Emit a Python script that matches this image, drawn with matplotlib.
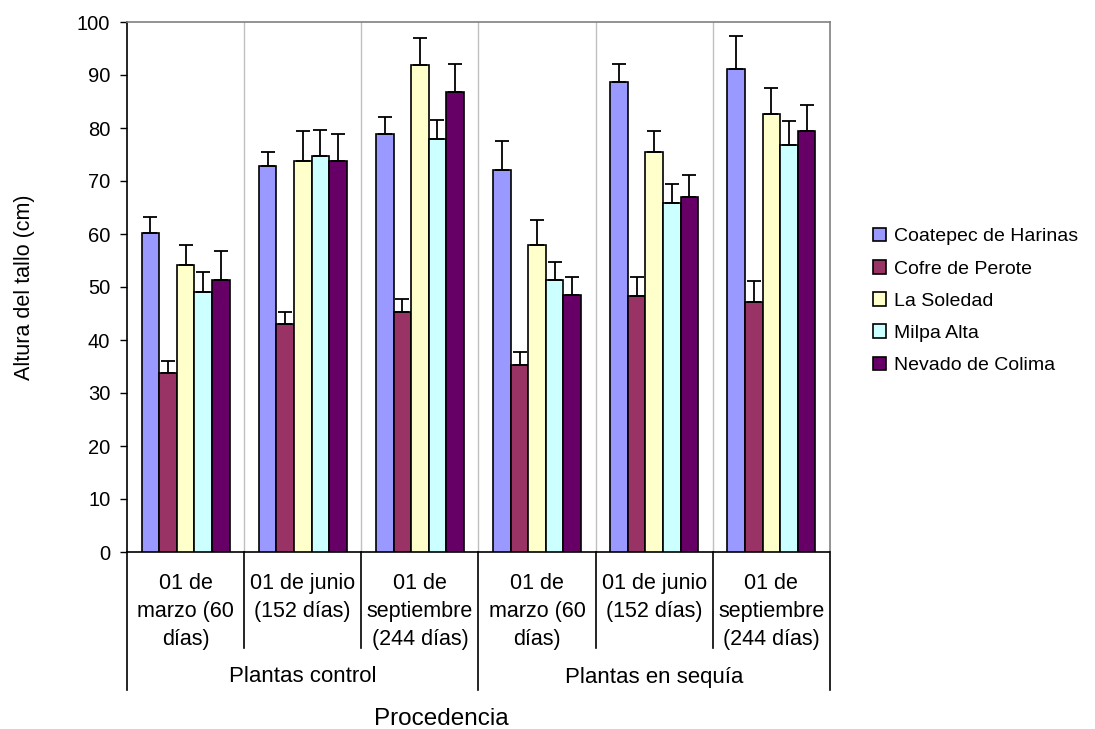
import numpy as np
import matplotlib
matplotlib.use('Agg')
import matplotlib.pyplot as plt
import matplotlib.transforms as mtransforms

plt.rcParams['font.family'] = ['Liberation Sans', 'DejaVu Sans']

# Datos
fechas = ['01 de\nmarzo (60\ndías)', '01 de junio\n(152 días)', '01 de\nseptiembre\n(244 días)',
          '01 de\nmarzo (60\ndías)', '01 de junio\n(152 días)', '01 de\nseptiembre\n(244 días)']
tratamientos = ['Plantas control', 'Plantas en sequía']
procedencias = ['Coatepec de Harinas', 'Cofre de Perote', 'La Soledad', 'Milpa Alta', 'Nevado de Colima']

coatepec = [60.2, 72.9, 78.8, 72.0, 88.6, 91.1]
cofre = [33.8, 43.0, 45.3, 35.3, 48.3, 47.2]
soledad = [54.1, 73.8, 91.8, 57.9, 75.5, 82.6]
milpa = [49.1, 74.7, 77.9, 51.4, 65.8, 76.7]
nevado = [51.4, 73.8, 86.7, 48.5, 67.0, 79.4]

# extremo superior de la barra de error
coatepec_sup = [63.2, 75.5, 82.1, 77.6, 92.1, 97.4]
cofre_sup = [36.0, 45.3, 47.7, 37.7, 51.8, 51.2]
soledad_sup = [57.9, 79.4, 97.0, 62.6, 79.4, 87.6]
milpa_sup = [52.9, 79.7, 81.5, 54.7, 69.4, 81.4]
nevado_sup = [56.8, 78.8, 92.1, 51.8, 71.2, 84.4]

colores = ['#9999FF', '#993366', '#FFFFCC', '#CCFFFF', '#660066']

series = [coatepec, cofre, soledad, milpa, nevado]
superiores = [coatepec_sup, cofre_sup, soledad_sup, milpa_sup, nevado_sup]

fig = plt.figure(figsize=(10.95, 7.29), dpi=100)
ax = fig.add_axes([127 / 1095, 1 - 552 / 729, (830 - 127) / 1095, (552 - 22) / 729])

x = np.arange(len(fechas))
ancho = 0.15
for j, (vals, sup) in enumerate(zip(series, superiores)):
    vals = np.array(vals)
    err = np.array(sup) - vals
    pos = x + (j - 2) * ancho
    ax.bar(pos, vals, ancho, color=colores[j], edgecolor='black', linewidth=1.2,
           label=procedencias[j], zorder=3)
    ax.errorbar(pos, vals, yerr=[np.zeros_like(err), err], fmt='none', ecolor='black',
                elinewidth=1.3, capsize=5, capthick=1.3, zorder=4)

ax.set_xlim(-0.5, len(fechas) - 0.5)
ax.set_ylim(0, 100)
ax.set_yticks(range(0, 101, 10))
ax.tick_params(axis='y', labelsize=14.5, length=5, width=1, direction='out', pad=7)
ax.set_xticks([])

for b in np.arange(0.5, len(fechas) - 0.5, 1):
    ax.axvline(b, color='#C0C0C0', linewidth=1, zorder=1)

ax.spines['left'].set_color('black')
ax.spines['bottom'].set_color('black')
ax.spines['top'].set_color('#808080')
ax.spines['right'].set_color('#808080')
for s in ax.spines.values():
    s.set_linewidth(1.2)

# tabla de etiquetas del eje x
trans = mtransforms.blended_transform_factory(ax.transData, ax.transAxes)
alto = 530.0
for b in np.arange(-0.5, len(fechas), 1):
    fondo = -138 / alto if b in (-0.5, 2.5, 5.5) else -96 / alto
    ax.plot([b, b], [0, fondo], color='black', linewidth=1.2, transform=trans, clip_on=False)

for i, f in enumerate(fechas):
    ax.text(i, -21 / alto, f, transform=trans, ha='center', va='top', fontsize=15.5,
            linespacing=1.45)

for k, t in enumerate(tratamientos):
    ax.text(1 + 3 * k, -125 / alto, t, transform=trans, ha='center', va='center', fontsize=16)

fig.text(441 / 1095, 1 - 719 / 729, 'Procedencia', ha='center', va='center', fontsize=17.5)
fig.text(25 / 1095, 1 - 287 / 729, 'Altura del tallo (cm)', ha='center', va='center',
         rotation=90, fontsize=15.5)

fig.legend(loc='center left', bbox_to_anchor=(855 / 1095, 1 - 301 / 729), frameon=False,
           fontsize=14, handlelength=0.7, handleheight=0.7, handletextpad=0.4,
           labelspacing=0.75)

fig.savefig('out.png', dpi=100)
